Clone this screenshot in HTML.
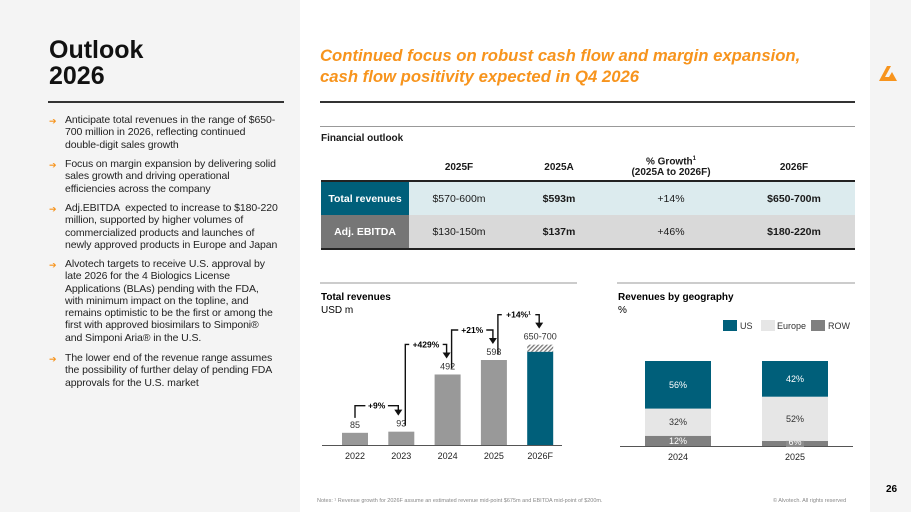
<!DOCTYPE html>
<html><head><meta charset="utf-8">
<style>
*{margin:0;padding:0;box-sizing:border-box}
body{width:911px;height:512px;position:relative;overflow:hidden;background:#fff;font-family:"Liberation Sans",sans-serif;color:#1a1a1a}
.abs{position:absolute}
#left{left:0;top:0;width:300px;height:512px;background:#f4f4f4}
#strip{left:870px;top:0;width:41px;height:512px;background:#f4f4f4}
h1{position:absolute;left:49px;top:37px;font-size:25px;line-height:26px;font-weight:bold;color:#111}
.bul{position:absolute;left:65px;font-size:10.5px;line-height:12.3px;color:#222;white-space:nowrap;letter-spacing:-0.1px}
.arr{position:absolute;left:49px;font-size:9px;color:#f7941d}
.heading{left:320px;top:45px;font-size:16.7px;line-height:21px;font-weight:bold;font-style:italic;color:#f7941d;white-space:nowrap}
table{border-collapse:collapse;position:absolute;left:321px;top:154px;width:534px;font-size:10.5px}
td,th{text-align:center}
</style></head><body>
<div id="left" class="abs"></div>
<div id="strip" class="abs"></div>
<svg class="abs" style="left:877px;top:64px" width="22" height="18"><path d="M2 17 L10 2 L14 2 L8 13 L12 13 L15 8 L20 17 Z" fill="#f7941d"/></svg>
<h1>Outlook<br>2026</h1>
<div class="abs" style="left:48px;top:101px;width:236px;height:1.5px;background:#333"></div>
<div class="arr" style="top:116px">➔</div>
<div class="bul" style="top:114px">Anticipate total revenues in the range of $650-<br>700 million in 2026, reflecting continued<br>double-digit sales growth</div>
<div class="arr" style="top:160px">➔</div>
<div class="bul" style="top:158px">Focus on margin expansion by delivering solid<br>sales growth and driving operational<br>efficiencies across the company</div>
<div class="arr" style="top:204px">➔</div>
<div class="bul" style="top:202px">Adj.EBITDA &nbsp;expected to increase to $180-220<br>million, supported by higher volumes of<br>commercialized products and launches of<br>newly approved products in Europe and Japan</div>
<div class="arr" style="top:260px">➔</div>
<div class="bul" style="top:258px">Alvotech targets to receive U.S. approval by<br>late 2026 for the 4 Biologics License<br>Applications (BLAs) pending with the FDA,<br>with minimum impact on the topline, and<br>remains optimistic to be the first or among the<br>first with approved biosimilars to Simponi®<br>and Simponi Aria® in the U.S.</div>
<div class="arr" style="top:354px">➔</div>
<div class="bul" style="top:352px">The lower end of the revenue range assumes<br>the possibility of further delay of pending FDA<br>approvals for the U.S. market</div>

<div class="abs heading">Continued focus on robust cash flow and margin expansion,<br>cash flow positivity expected in Q4 2026</div>
<div class="abs" style="left:320px;top:101px;width:535px;height:1.5px;background:#333"></div>
<div class="abs" style="left:320px;top:126px;width:535px;height:1px;background:#999"></div>
<div class="abs" style="left:321px;top:133px;font-size:10px;font-weight:bold">Financial outlook</div>
<table>
<tr style="height:27px;font-weight:bold;font-size:10px;border-bottom:2px solid #222"><th style="width:88px"></th><th style="width:100px">2025F</th><th style="width:100px">2025A</th><th style="width:124px">% Growth<sup style="font-size:6px">1</sup><br>(2025A to 2026F)</th><th>2026F</th></tr>
<tr style="height:34px;background:#dcebee"><td style="background:#005f7a;color:#fff;font-weight:bold">Total revenues</td><td>$570-600m</td><td><b>$593m</b></td><td>+14%</td><td><b>$650-700m</b></td></tr>
<tr style="height:34px;background:#d9d9d9;border-bottom:2px solid #222"><td style="background:#767676;color:#fff;font-weight:bold">Adj. EBITDA</td><td>$130-150m</td><td><b>$137m</b></td><td>+46%</td><td><b>$180-220m</b></td></tr>
</table>

<svg class="abs" style="left:0;top:0" width="911" height="512" id="charts" font-family="Liberation Sans, sans-serif">
<defs><pattern id="hatch" width="3" height="3" patternUnits="userSpaceOnUse" patternTransform="rotate(45)"><rect width="3" height="3" fill="#fff"/><rect width="1.3" height="3" fill="#777"/></pattern></defs>
<line x1="320" y1="283" x2="577" y2="283" stroke="#999"/>
<text x="321" y="300" font-size="10" font-weight="bold">Total revenues</text>
<text x="321" y="313" font-size="10">USD m</text>
<line x1="617" y1="283" x2="855" y2="283" stroke="#999"/>
<text x="618" y="300" font-size="10" font-weight="bold">Revenues by geography</text>
<text x="618" y="313" font-size="10">%</text>
<g id="rev"></g><g id="geo"></g>
<text x="317" y="502" font-size="5.5" fill="#888">Notes: ¹ Revenue growth for 2026F assume an estimated revenue mid-point $675m and EBITDA mid-point of $200m.</text>
<text x="773" y="502" font-size="5.5" fill="#888">© Alvotech. All rights reserved</text>
<text x="886" y="492" font-size="10" font-weight="bold">26</text>
</svg>
<script>
const revYears=["2022","2023","2024","2025","2026F"];
const revValues=[85,93,492,593,650];
const revLabels=["85","93","492","593","650-700"];
const revHigh=700;
const growthLabels=["+9%","+429%","+21%","+14%¹"];
const geoYears=["2024","2025"];
const geoUS=[56,42];
const geoEurope=[32,52];
const geoROW=[12,6];
const NS="http://www.w3.org/2000/svg";
function mk(p,t,a,txt){const e=document.createElementNS(NS,t);for(const k in a)e.setAttribute(k,a[k]);if(txt!==undefined)e.textContent=txt;p.appendChild(e);return e;}
const rev=document.getElementById('rev');
const base=445,sc=85/593;
const xc=i=>355+i*46.3, y=v=>base-v*sc;
const topOf=i=>i===revValues.length-1?y(revHigh):y(revValues[i]);
const labelTop=i=>topOf(i)-14;
mk(rev,'line',{x1:322,y1:base+0.5,x2:562,y2:base+0.5,stroke:'#555'});
revValues.forEach((v,i)=>{
 const last=i===revValues.length-1;
 if(last){const h=mk(rev,'rect',{x:xc(i)-13,y:y(revHigh),width:26,height:y(v)-y(revHigh),fill:'url(#hatch)'});
 }
 const r=mk(rev,'rect',{x:xc(i)-13,y:y(v),width:26,height:base-y(v),fill:last?'#005f7a':'#999'});
 
 
 mk(rev,'text',{x:xc(i),y:topOf(i)-5,'font-size':9,'text-anchor':'middle',fill:'#333'},revLabels[i]);
 mk(rev,'text',{x:xc(i),y:base+14,'font-size':9,'text-anchor':'middle',fill:'#222'},revYears[i]);
});
growthLabels.forEach((g,i)=>{
 const tip=labelTop(i+1)-3;
 const topY=tip-(i===0?9:13);
 const x1=i===0?xc(i):xc(i)+4;
 const y1=i===0?labelTop(i)-1:labelTop(i)+8;
 const x2=xc(i+1)-(i===0?3:1);
 mk(rev,'path',{d:`M${x1} ${y1} L${x1} ${topY} L${x2} ${topY} L${x2} ${tip-4}`,fill:'none',stroke:'#111','stroke-width':1.4});
 mk(rev,'path',{d:`M${x2-4} ${tip-5} L${x2+4} ${tip-5} L${x2} ${tip+1}Z`,fill:'#111'});
 const w=g.length*5.5+6;
 mk(rev,'rect',{x:(x1+x2)/2-w/2,y:topY-6,width:w,height:12,fill:'#fff'});
 const lab=mk(rev,'text',{x:(x1+x2)/2,y:topY+3,'font-size':8.5,'font-weight':'bold','text-anchor':'middle'},g);
 
 
});
const geo=document.getElementById('geo');
const gb=446,gs=85/100;const gx=i=>645+i*117;
mk(geo,'line',{x1:620,y1:gb+0.5,x2:853,y2:gb+0.5,stroke:'#555'});
const series=[[geoROW,'#808080','row','#fff'],[geoEurope,'#e6e6e6','europe','#333'],[geoUS,'#005f7a','us','#fff']];
geoYears.forEach((yr,i)=>{
 let acc=0;
 series.forEach(([arr,col,nm,tc])=>{
  const v=arr[i];const y0=gb-(acc+v)*gs;
  const r=mk(geo,'rect',{x:gx(i),y:y0,width:66,height:v*gs,fill:col});
  
  
  let ty=y0+v*gs/2+3;
  if(nm==='row'&&v<8){mk(geo,'rect',{x:gx(i)+24,y:gb-9,width:18,height:10,fill:'#8c8c8c'});ty=gb-1;}
  mk(geo,'text',{x:gx(i)+33,y:ty,'font-size':9,'text-anchor':'middle',fill:tc},v+'%');
  acc+=v;
 });
 mk(geo,'text',{x:gx(i)+33,y:gb+14,'font-size':9,'text-anchor':'middle',fill:'#222'},yr);
});
[['US','#005f7a',723,740],['Europe','#e6e6e6',761,777],['ROW','#808080',811,828]].forEach(([n,c,x,tx])=>{
 const r=mk(geo,'rect',{x:x,y:320,width:14,height:11,fill:c});
 
 
 mk(geo,'text',{x:tx,y:329,'font-size':9,fill:'#333'},n);
});
</script>
</body></html>
